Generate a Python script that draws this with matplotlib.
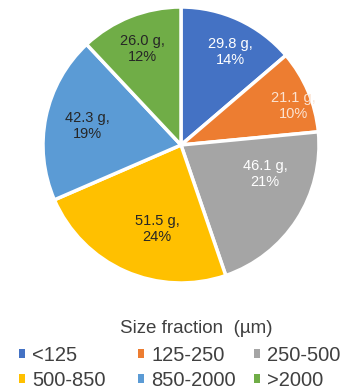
import numpy as np
import matplotlib.pyplot as plt

plt.rcParams['font.family'] = ['Liberation Sans', 'DejaVu Sans']

fractions = ["<125", "125-250", "250-500", "500-850", "850-2000", ">2000"]
mass_g = [29.8, 21.1, 46.1, 51.5, 42.3, 26.0]
percent = [14, 10, 21, 24, 19, 12]

colors = ["#4472C4", "#ED7D31", "#A5A5A5", "#FFC000", "#5B9BD5", "#70AD47"]
text_colors = ["white", "#fbe3d2", "white", "#262626", "#262626", "#262626"]
# label centres relative to the pie centre, in radii
label_pos = [(0.355, 0.674), (0.812, 0.283), (0.609, -0.210),
             (-0.174, -0.609), (-0.681, 0.138), (-0.283, 0.696)]

fig = plt.figure(figsize=(3.44, 3.92), dpi=100)
ax = fig.add_axes([0, 0, 1, 1])

cx, cy, r = 181, 247, 138
wedges, _ = ax.pie(mass_g, colors=colors, startangle=90, counterclock=False,
                   center=(cx, cy), radius=r,
                   wedgeprops=dict(edgecolor="white", linewidth=2.5))

for m, p, tc, (dx, dy) in zip(mass_g, percent, text_colors, label_pos):
    ax.text(cx + dx * r, cy + dy * r, f"{m:.1f} g,\n{p}%",
            ha="center", va="center", color=tc, fontsize=10.5,
            linespacing=1.15)

ax.set_xlim(0, 344)
ax.set_ylim(0, 392)
ax.set_aspect("equal")
ax.axis("off")

fig.text(0.571, 0.163, "Size fraction  (\u00b5m)", ha="center", va="center",
         fontsize=13.5, color="#404040")

# one legend per column so each column sits at its own x
col_x = [19, 138, 254]
for k, x in enumerate(col_x):
    idx = [k, k + 3]
    leg = fig.legend([wedges[i] for i in idx], [fractions[i] for i in idx],
                     loc="upper left", bbox_to_anchor=(x / 344, 0.118),
                     frameon=False, fontsize=14.5,
                     handlelength=0.28, handleheight=0.28, handletextpad=0.38,
                     labelspacing=0.3, borderaxespad=0, borderpad=0)
    for h in leg.legend_handles:
        h.set_linewidth(0)
    for t in leg.get_texts():
        t.set_color("#404040")

fig.savefig("out.png", dpi=100)
